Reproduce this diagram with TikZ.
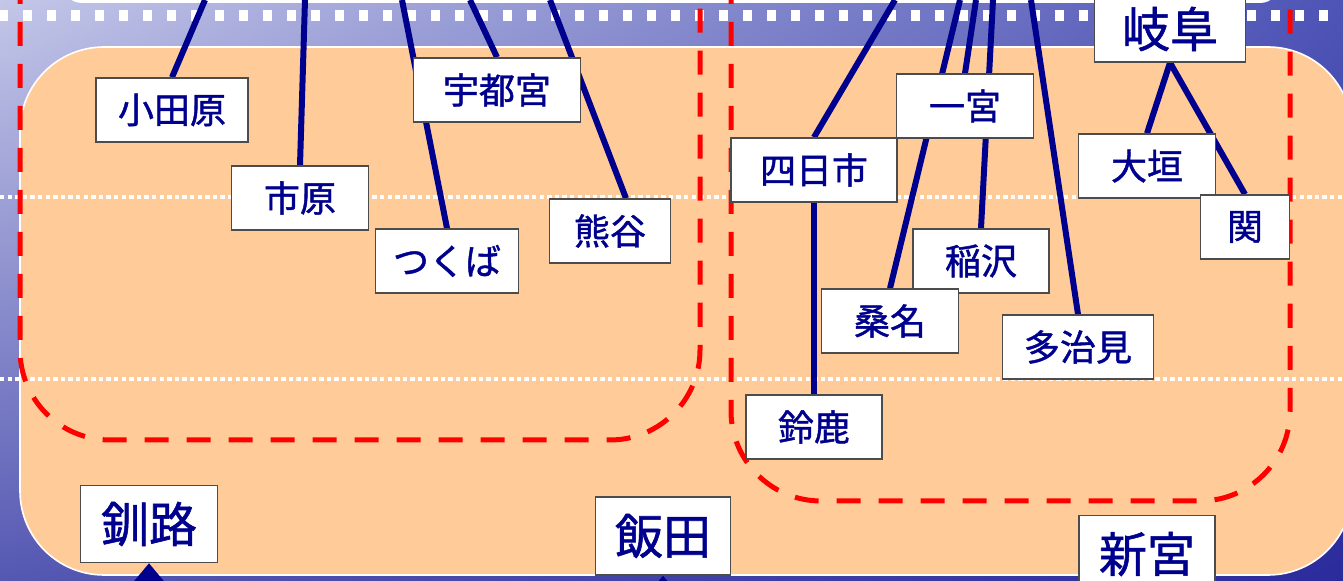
\documentclass[tikz,border=0pt]{standalone}
\usepackage{fontspec}
\newfontfamily\jpfont{Noto Sans CJK JP}[FakeBold=1.2]
\usetikzlibrary{arrows.meta,shadings}

\definecolor{slideorange}{HTML}{FFCC99}
\definecolor{stnnavy}{HTML}{00008E}
\definecolor{bgtl}{HTML}{C4C7E8}
\definecolor{bgtr}{HTML}{4E54B6}
\definecolor{bgbl}{HTML}{5558B2}
\definecolor{bgbr}{HTML}{2B2B9C}

\pgfdeclarelayer{back}
\pgfdeclarelayer{wires}
\pgfsetlayers{back,wires,main}

\begin{document}
\begin{tikzpicture}[x=0.5pt, y=-0.5pt,
    stn/.style={draw=black!70, line width=0.7pt, fill=white, text=stnnavy,
      font=\jpfont\fontsize{18}{18}\selectfont, minimum height=32pt, inner sep=0pt},
    bigstn/.style={stn, font=\jpfont\fontsize{24}{24}\selectfont},
    wire/.style={draw=stnnavy, line width=3pt},
    feed/.style={wire, -{Triangle[length=10pt, width=16pt]}},
    area/.style={draw=red, line width=2.5pt, dash pattern=on 12pt off 9pt, rounded corners=45pt},
    dots/.style={draw=white, line width=2pt, dash pattern=on 2.2pt off 1.6pt}]
    \useasboundingbox (0,0) rectangle (1343,581);

    % Stations, left group
    \node[stn, minimum width=76pt] (odawara) at (172,110) {小田原};
    \node[stn, minimum width=68.5pt] (ichihara) at (300,198) {市原};
    \node[stn, minimum width=83.5pt] (utsunomiya) at (497,90) {宇都宮};
    \node[stn, minimum width=71.5pt] (tsukuba) at (447,261) {つくば};
    \node[stn, minimum width=60.5pt] (kumagaya) at (610,231) {熊谷};

    % Stations, right group
    \node[bigstn, minimum width=75.5pt, minimum height=33pt] (gifu) at (1170,29) {岐阜};
    \node[stn, minimum width=68.5pt] (ichinomiya) at (965,106) {一宮};
    \node[stn, minimum width=83pt] (yokkaichi) at (814,170) {四日市};
    \node[stn, minimum width=68.5pt] (ogaki) at (1147,166) {大垣};
    \node[stn, minimum width=44.5pt] (seki) at (1245,227) {関};
    \node[stn, minimum width=68pt] (inazawa) at (981,261) {稲沢};
    \node[stn, minimum width=68.5pt] (kuwana) at (890,321) {桑名};
    \node[stn, minimum width=75.5pt] (tajimi) at (1078,347) {多治見};
    \node[stn, minimum width=68pt] (suzuka) at (814,427) {鈴鹿};

    % Stations along the bottom
    \node[bigstn, minimum width=68.5pt, minimum height=38.5pt] (kushiro) at (149,524) {釧路};
    \node[bigstn, minimum width=67.5pt, minimum height=39pt] (iida) at (663,536) {飯田};
    \node[bigstn, minimum width=68pt, minimum height=38.5pt] (shingu) at (1147,554) {新宮};

    \begin{pgfonlayer}{back}
        % Slide background
        \shade[upper left=bgtl, upper right=bgtr, lower left=bgbl, lower right=bgbr]
            (0,0) rectangle (1343,581);
        \fill[white, rounded corners=10pt] (62,-40) rectangle (1280,3);
        \foreach \x in {0,24,...,1344}
            \fill[white] (\x-1,10) rectangle (\x+8,21);
        \draw[white, line width=0.8pt, fill=slideorange, rounded corners=42pt]
            (20,47) rectangle (1352,575);
        \draw[dots] (0,197) -- (1343,197);
        \draw[dots] (0,379) -- (1343,379);
    \end{pgfonlayer}

    \begin{pgfonlayer}{wires}
        % Red dashed groups
        \draw[area] (20,-20) -- (20,440) -- (700,440) -- (700,-20);
        \draw[area] (731,-20) -- (731,501) -- (1290,501) -- (1290,-20);

        % Lines coming in from the top edge
        \coordinate (odawaraIn) at (205,0);
        \coordinate (ichiharaIn) at (305,0);
        \coordinate (tsukubaIn) at (402,0);
        \coordinate (utsunomiyaIn) at (470,0);
        \coordinate (kumagayaIn) at (550,0);
        \coordinate (yokkaichiIn) at (895,0);
        \coordinate (kuwanaIn) at (960,0);
        \coordinate (ichinomiyaIn) at (976,0);
        \coordinate (inazawaIn) at (993,0);
        \coordinate (tajimiIn) at (1031,0);
        \draw[wire] (odawaraIn) -- (odawara.north);
        \draw[wire] (ichiharaIn) -- (ichihara.north);
        \draw[wire] (tsukubaIn) -- (tsukuba.north);
        \draw[wire] (utsunomiyaIn) -- (utsunomiya.north);
        \draw[wire] (kumagayaIn) -- ([xshift=8pt]kumagaya.north);
        \draw[wire] (yokkaichiIn) -- (yokkaichi.north);
        \draw[wire] (kuwanaIn) -- (kuwana.north);
        \draw[wire] (ichinomiyaIn) -- (ichinomiya.north);
        \draw[wire] (inazawaIn) -- (inazawa.north);
        \draw[wire] (tajimiIn) -- (tajimi.north);

        % Branches
        \draw[wire] (yokkaichi.south) -- (suzuka.north);
        \draw[wire] (gifu.south) -- (ogaki.north);
        \draw[wire] (gifu.south) -- (seki.north);

        % Arrows coming in from the bottom edge
        \coordinate (kushiroIn) at (149,640);
        \coordinate (iidaIn) at (663,640);
        \draw[feed] (kushiroIn) -- (kushiro.south);
        \draw[feed] (iidaIn) -- (iida.south);
    \end{pgfonlayer}
\end{tikzpicture}
\end{document}
